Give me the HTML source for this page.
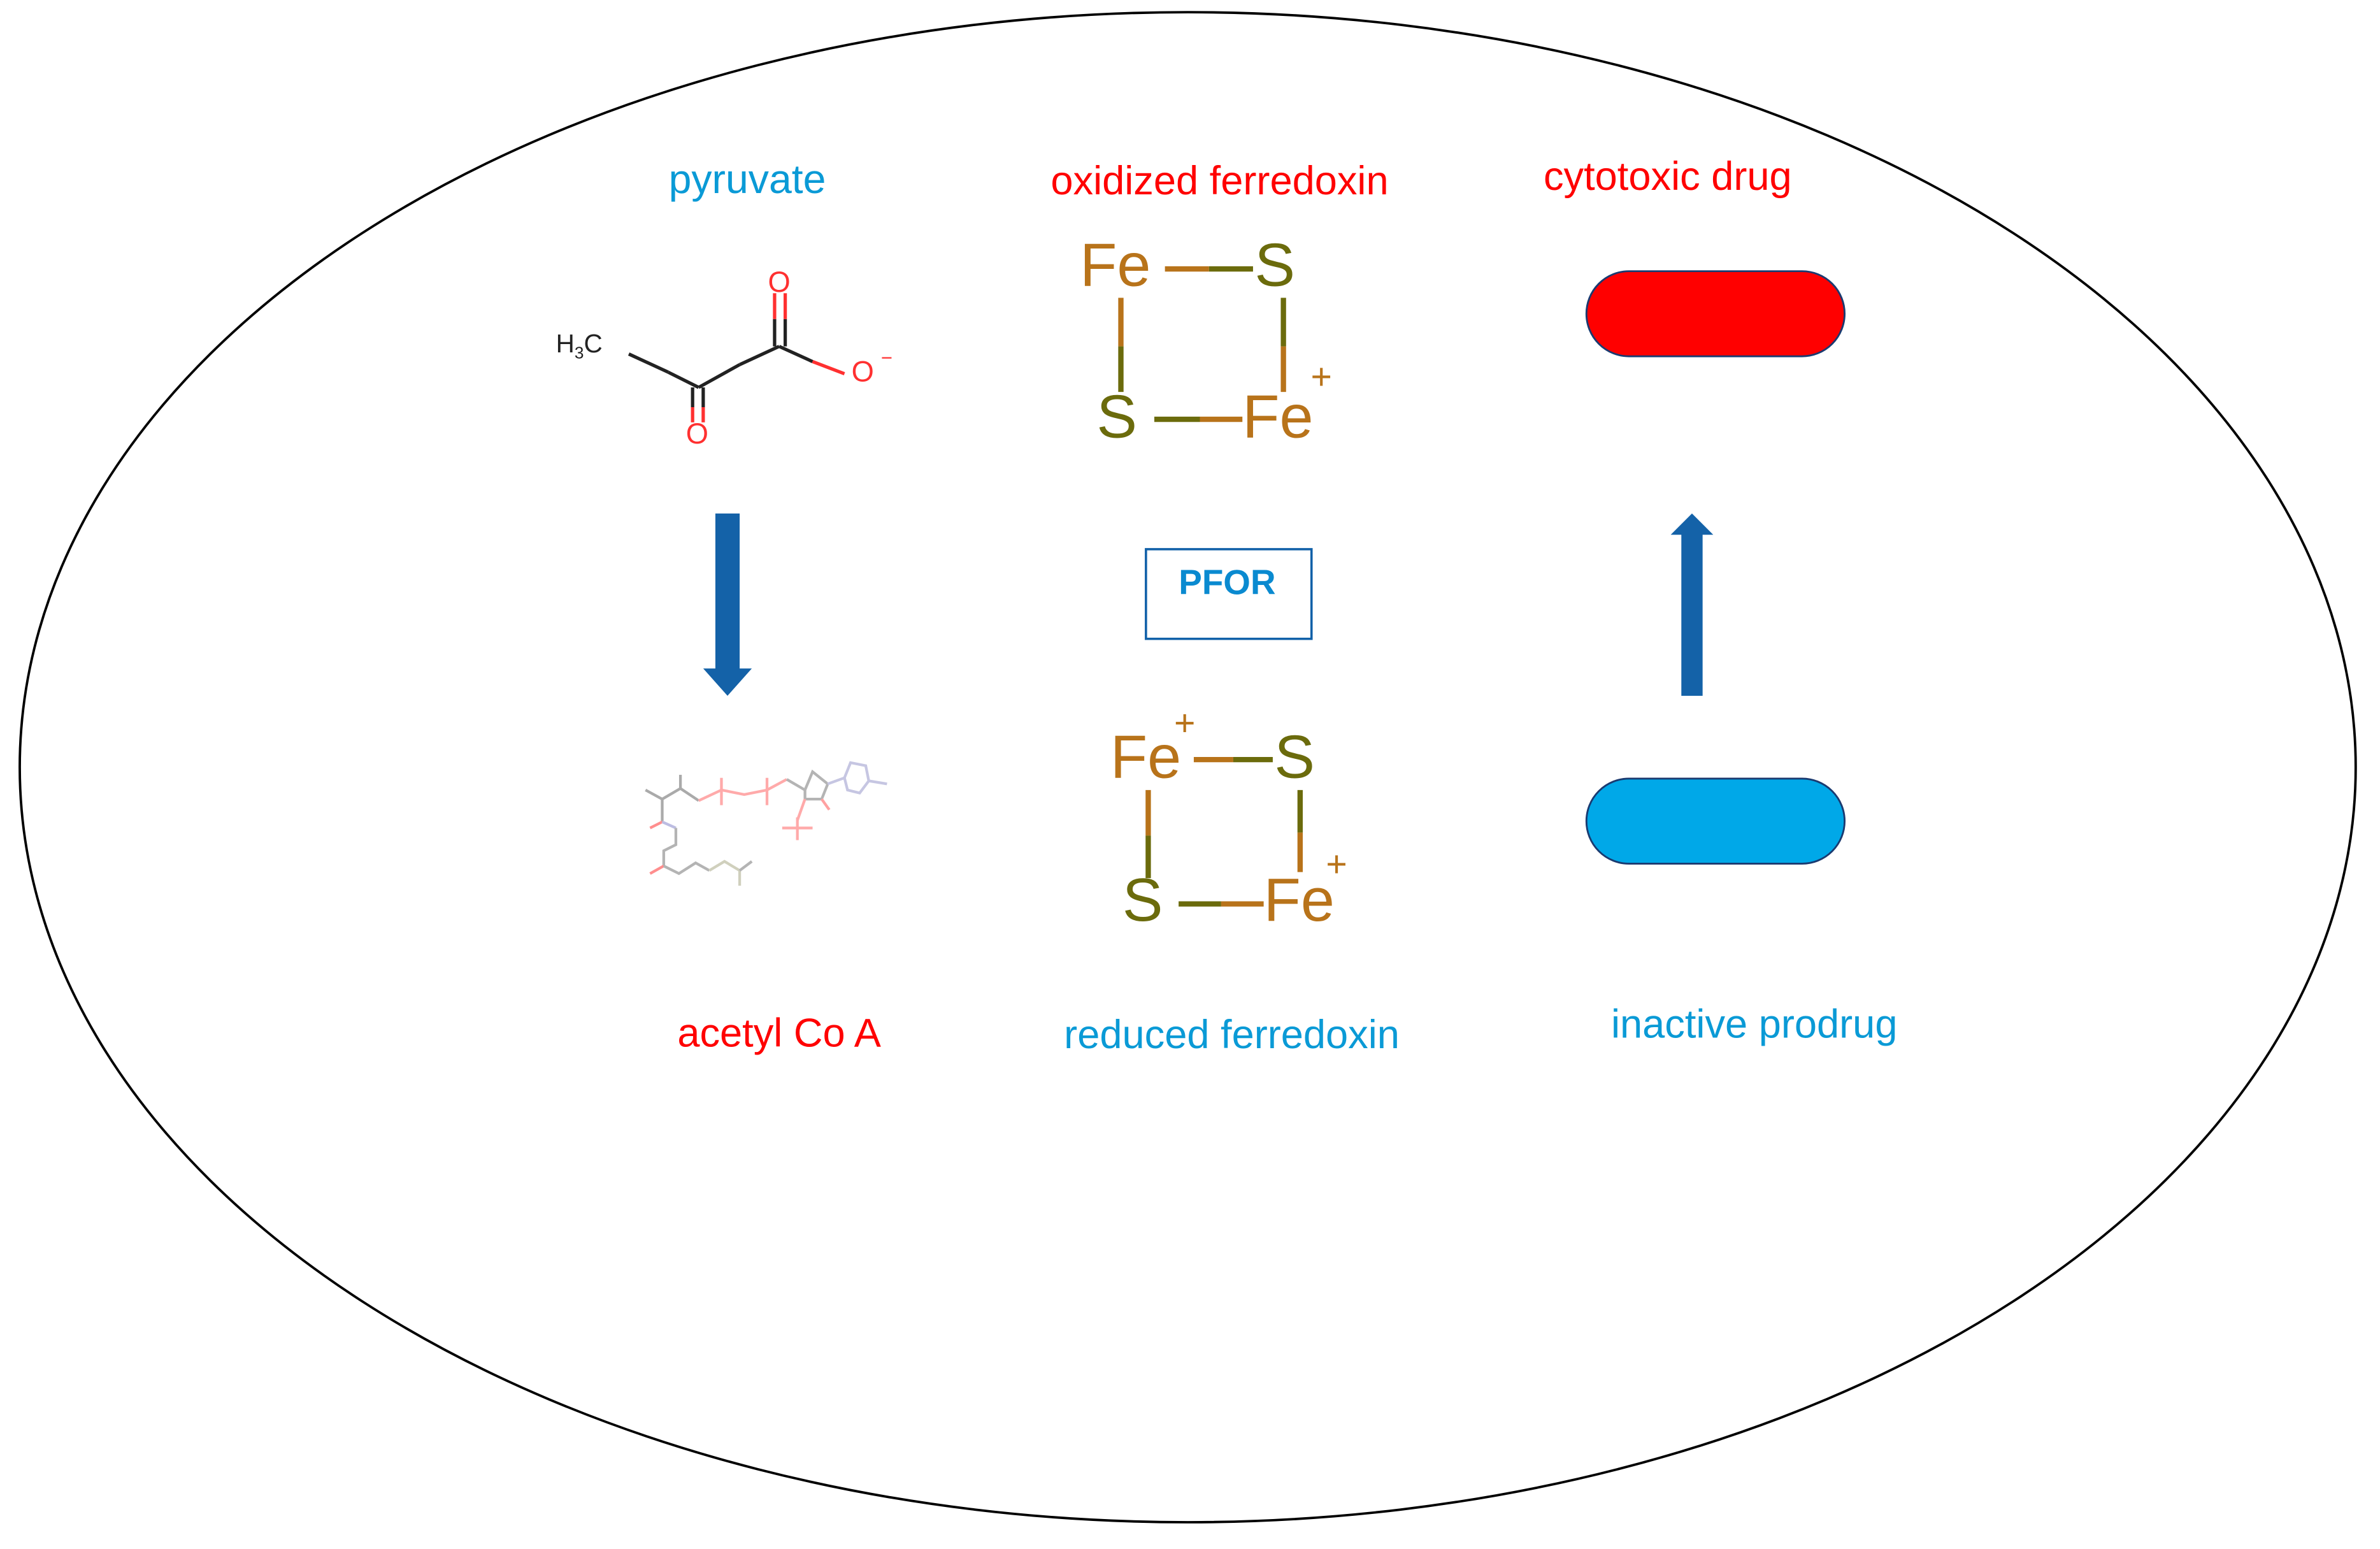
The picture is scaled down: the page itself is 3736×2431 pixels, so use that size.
<!DOCTYPE html>
<html><head><meta charset="utf-8"><style>
html,body{margin:0;padding:0;background:#fff}
svg{display:block}
text{font-family:"Liberation Sans",sans-serif}
</style></head><body>
<svg width="3736" height="2431" viewBox="0 0 1567 1019.6" xmlns="http://www.w3.org/2000/svg">
<rect width="1567" height="1020" fill="#fff"/>
<ellipse cx="782" cy="505" rx="769" ry="497" fill="none" stroke="#000" stroke-width="1.6"/>

<text x="492" y="127" font-size="27" fill="#0a9ad6" text-anchor="middle">pyruvate</text>
<text x="803" y="128" font-size="26.5" fill="#ff0000" text-anchor="middle">oxidized ferredoxin</text>
<text x="1098" y="125" font-size="26.5" fill="#ff0000" text-anchor="middle">cytotoxic drug</text>
<text x="513" y="689" font-size="26.5" fill="#ff0000" text-anchor="middle">acetyl Co A</text>
<text x="811" y="690" font-size="26.5" fill="#0a9ad6" text-anchor="middle">reduced ferredoxin</text>
<text x="1155" y="683" font-size="26.5" fill="#0a9ad6" text-anchor="middle">inactive prodrug</text>

<!-- pyruvate -->
<g stroke-width="2.2" fill="none">
<line x1="414" y1="233" x2="440" y2="245" stroke="#222"/>
<line x1="440" y1="245" x2="460" y2="255" stroke="#222"/>
<line x1="460" y1="255" x2="487" y2="240" stroke="#222"/>
<line x1="487" y1="240" x2="513" y2="228" stroke="#222"/>
<line x1="513" y1="228" x2="535" y2="238" stroke="#222"/>
<line x1="535" y1="238" x2="556" y2="246" stroke="#ff3030"/>
<line x1="510" y1="228" x2="510" y2="210" stroke="#222"/><line x1="517" y1="228" x2="517" y2="210" stroke="#222"/>
<line x1="510" y1="210" x2="510" y2="193" stroke="#ff3030"/><line x1="517" y1="210" x2="517" y2="193" stroke="#ff3030"/>
<line x1="456" y1="255" x2="456" y2="268" stroke="#222"/><line x1="463" y1="255" x2="463" y2="268" stroke="#222"/>
<line x1="456" y1="268" x2="456" y2="278" stroke="#ff3030"/><line x1="463" y1="268" x2="463" y2="278" stroke="#ff3030"/>
</g>
<text x="366" y="232" font-size="17" fill="#222">H<tspan font-size="11" dy="4">3</tspan><tspan dy="-4">C</tspan></text>
<text x="513" y="192" font-size="19" fill="#ff3030" text-anchor="middle">O</text>
<text x="459" y="292" font-size="19" fill="#ff3030" text-anchor="middle">O</text>
<text x="568" y="251" font-size="19" fill="#ff3030" text-anchor="middle">O</text>
<text x="580" y="240" font-size="13" fill="#ff3030">−</text>

<!-- oxidized ferredoxin -->
<g stroke-width="3.5">
<line x1="767" y1="177" x2="796" y2="177" stroke="#b8731a"/><line x1="796" y1="177" x2="825" y2="177" stroke="#6b6b0c"/>
<line x1="738" y1="196" x2="738" y2="228" stroke="#b8731a"/><line x1="738" y1="228" x2="738" y2="258" stroke="#6b6b0c"/>
<line x1="845" y1="196" x2="845" y2="228" stroke="#6b6b0c"/><line x1="845" y1="228" x2="845" y2="258" stroke="#b8731a"/>
<line x1="760" y1="276" x2="790" y2="276" stroke="#6b6b0c"/><line x1="790" y1="276" x2="818" y2="276" stroke="#b8731a"/>
</g>
<text x="711" y="188" font-size="40" fill="#b8731a">Fe</text>
<text x="826" y="188" font-size="40" fill="#6b6b0c">S</text>
<text x="722" y="288" font-size="40" fill="#6b6b0c">S</text>
<text x="818" y="288" font-size="40" fill="#b8731a">Fe</text>
<text x="863" y="256" font-size="24" fill="#b8731a">+</text>

<!-- reduced ferredoxin -->
<g stroke-width="3.5">
<line x1="786" y1="500" x2="812" y2="500" stroke="#b8731a"/><line x1="812" y1="500" x2="838" y2="500" stroke="#6b6b0c"/>
<line x1="756" y1="520" x2="756" y2="550" stroke="#b8731a"/><line x1="756" y1="550" x2="756" y2="578" stroke="#6b6b0c"/>
<line x1="856" y1="520" x2="856" y2="548" stroke="#6b6b0c"/><line x1="856" y1="548" x2="856" y2="574" stroke="#b8731a"/>
<line x1="776" y1="595" x2="804" y2="595" stroke="#6b6b0c"/><line x1="804" y1="595" x2="832" y2="595" stroke="#b8731a"/>
</g>
<text x="731" y="512" font-size="40" fill="#b8731a">Fe</text>
<text x="839" y="512" font-size="40" fill="#6b6b0c">S</text>
<text x="773" y="484" font-size="24" fill="#b8731a">+</text>
<text x="739" y="606" font-size="40" fill="#6b6b0c">S</text>
<text x="832" y="606" font-size="40" fill="#b8731a">Fe</text>
<text x="873" y="577" font-size="24" fill="#b8731a">+</text>

<!-- PFOR -->
<rect x="754.5" y="361.5" width="109" height="59" fill="#fff" stroke="#1060a8" stroke-width="1.5"/>
<text x="808" y="391" font-size="23" font-weight="bold" fill="#0a8ad0" text-anchor="middle">PFOR</text>

<!-- arrows -->
<path d="M471 338 H487 V440 H495 L479 458 L463 440 H471 Z" fill="#1462a8"/>
<path d="M1107 458 H1121 V352 H1128 L1114 338 L1100 352 H1107 Z" fill="#1462a8"/>

<!-- pills -->
<rect x="1044.5" y="178.5" width="170" height="56" rx="28" fill="#ff0000" stroke="#1a3a70" stroke-width="1.2"/>
<rect x="1044.5" y="512.5" width="170" height="56" rx="28" fill="#00a8e8" stroke="#1a3a70" stroke-width="1.2"/>

<!-- acetyl CoA (faint) -->
<g stroke-width="1.8" fill="none" opacity="0.55">
<polyline points="425,520 436,526 448,519 460,527" stroke="#666"/>
<line x1="448" y1="519" x2="448" y2="510" stroke="#666"/>
<line x1="436" y1="526" x2="436" y2="541" stroke="#666"/>
<line x1="436" y1="541" x2="428" y2="545" stroke="#f33"/>
<line x1="436" y1="541" x2="445" y2="545" stroke="#88c"/>
<polyline points="445,545 445,556 437,560 437,570" stroke="#777"/>
<line x1="437" y1="570" x2="428" y2="575" stroke="#f33"/>
<polyline points="437,570 447,575 458,568 467,573" stroke="#777"/>
<polyline points="467,573 477,567 487,573 487,583" stroke="#aa8"/>
<line x1="487" y1="573" x2="495" y2="567" stroke="#777"/>
<polyline points="460,527 475,520 490,523 505,520 518,513" stroke="#f66"/>
<line x1="475" y1="512" x2="475" y2="530" stroke="#f66"/>
<line x1="505" y1="512" x2="505" y2="530" stroke="#f66"/>
<polyline points="518,513 530,520 535,508 545,516 541,526 530,526 530,520" stroke="#777"/>
<line x1="530" y1="526" x2="525" y2="540" stroke="#f66"/>
<line x1="515" y1="545" x2="535" y2="545" stroke="#f66"/>
<line x1="525" y1="538" x2="525" y2="553" stroke="#f66"/>
<line x1="541" y1="526" x2="546" y2="533" stroke="#f55"/>
<polyline points="545,516 556,512 560,502 570,504 572,514 566,522 558,520 556,512" stroke="#99c"/>
<line x1="572" y1="514" x2="584" y2="516" stroke="#99c"/>
</g>
</svg>
</body></html>
